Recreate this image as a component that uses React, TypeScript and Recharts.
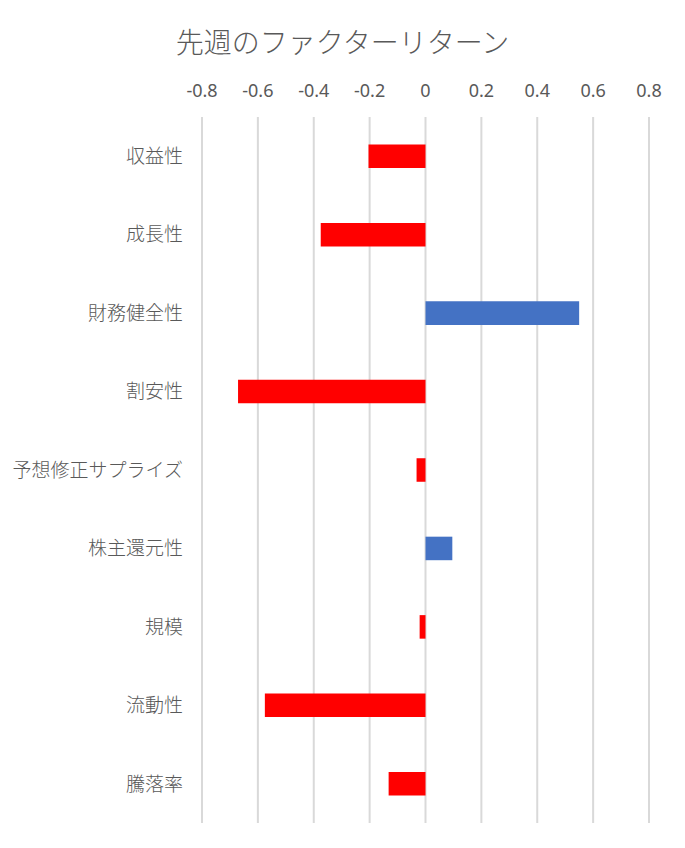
import React from "react";
import { BarChart, Bar, XAxis, YAxis, CartesianGrid, Cell } from "recharts";

const categories = [
  "収益性",
  "成長性",
  "財務健全性",
  "割安性",
  "予想修正サプライズ",
  "株主還元性",
  "規模",
  "流動性",
  "騰落率",
];
const returns = [-0.204, -0.375, 0.55, -0.671, -0.032, 0.096, -0.021, -0.575, -0.132];
const xTicks = [-0.8, -0.6, -0.4, -0.2, 0, 0.2, 0.4, 0.6, 0.8];
const title = "先週のファクターリターン";

const data = categories.map((name, i) => ({ name, value: returns[i] }));

const FONT = "'Noto Sans CJK JP', 'Noto Sans', sans-serif";
const TEXT = "#595959";

export default function App() {
  return (
    <div
      style={{
        position: "relative",
        width: 685,
        height: 848,
        margin: -8,
        background: "#fff",
        fontFamily: FONT,
      }}
    >
      <div
        style={{
          position: "absolute",
          left: 0,
          width: 685,
          top: 22,
          textAlign: "center",
          fontSize: 28,
          fontWeight: 300,
          color: TEXT,
          whiteSpace: "nowrap",
          lineHeight: "38px",
        }}
      >
        {title}
      </div>
      <div style={{ position: "absolute", left: 0, top: 0 }}>
        <BarChart
          width={685}
          height={848}
          data={data}
          layout="vertical"
          margin={{ top: 77, right: 36, bottom: 25, left: 0 }}
          barCategoryGap="65%"
        >
          <CartesianGrid horizontal={false} vertical={true} stroke="#d9d9d9" strokeWidth={2} />
          <XAxis
            type="number"
            orientation="top"
            domain={[-0.8, 0.8]}
            ticks={xTicks}
            height={40}
            axisLine={false}
            tickLine={false}
            tickSize={0}
            tickMargin={20}
            interval={0}
            tick={{ fill: TEXT, fontSize: 18, fontFamily: "'Noto Sans', sans-serif" }}
          />
          <YAxis
            type="category"
            dataKey="name"
            width={202}
            axisLine={false}
            tickLine={false}
            tickSize={0}
            tickMargin={19}
            interval={0}
            tick={{ fill: TEXT, fontSize: 19, fontFamily: FONT, fontWeight: 300 }}
          />
          <Bar dataKey="value" isAnimationActive={false}>
            {data.map((d, i) => (
              <Cell key={i} fill={d.value < 0 ? "#FF0000" : "#4472C4"} />
            ))}
          </Bar>
        </BarChart>
      </div>
      <div
        style={{
          position: "absolute",
          left: 0,
          top: 0,
          width: 685,
          height: 848,
          boxSizing: "border-box",
          border: "2px solid #d9d9d9",
          pointerEvents: "none",
        }}
      />
    </div>
  );
}
